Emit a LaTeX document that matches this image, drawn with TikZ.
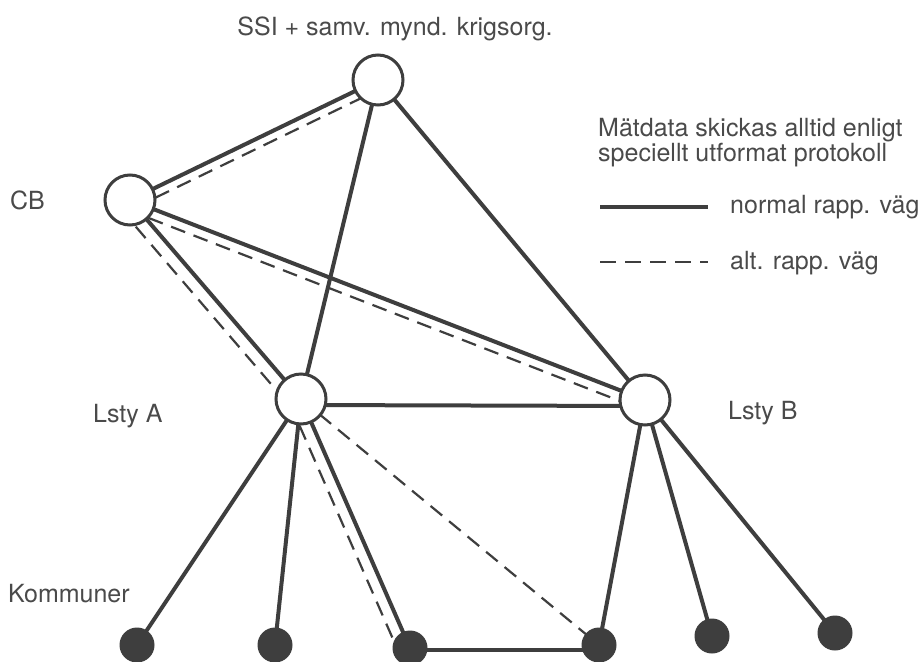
\documentclass[tikz,border=0pt]{standalone}
\usepackage{fontspec}
\setmainfont{TeX Gyre Heros}
\usetikzlibrary{calc,backgrounds}
\definecolor{ink}{HTML}{3E3E3E}
\definecolor{txt}{HTML}{4A4A4A}
\tikzset{
  hub/.style={circle,draw=ink,line width=3pt,fill=white,minimum size=50pt,inner sep=0pt},
  town/.style={circle,fill=ink,minimum size=35pt,inner sep=0pt},
  normal/.style={draw=ink,line width=4pt},
  alt/.style={draw=ink,line width=2.2pt,dash pattern=on 15pt off 9pt},
  lbl/.style={text=txt,font=\fontsize{25}{22}\selectfont,inner sep=0pt,anchor=base west}
}
\begin{document}
\begin{tikzpicture}[x=1pt,y=-1pt]
  \useasboundingbox (0,0) rectangle (922,662);

  % upper level nodes
  \node[hub] (ssi) at (378,80) {};
  \node[hub] (cb)  at (130,200) {};
  \node[hub] (la)  at (301,399) {};
  \node[hub] (lb)  at (645,400) {};

  % municipalities
  \node[town] (k1) at (137,645) {};
  \node[town] (k2) at (275,645) {};
  \node[town] (k3) at (410,648) {};
  \node[town] (k4) at (599,645) {};
  \node[town] (k5) at (712,636) {};
  \node[town] (k6) at (835,633) {};

  % labels
  \node[lbl,anchor=base] (tssi) at (395,35) {SSI + samv. mynd. krigsorg.};
  \node[lbl] (tcb) at (10,209) {CB};
  \node[lbl] (tla) at (93,422) {Lsty A};
  \node[lbl] (tlb) at (728,419) {Lsty B};
  \node[lbl] (tk)  at (8,602) {Kommuner};

  % legend
  \node[lbl,align=left,anchor=north west] (note) at (598,118)
    {Mätdata skickas alltid enligt\\speciellt utformat protokoll};
  \coordinate (ln1) at (600,207);
  \coordinate (ln2) at (708,207);
  \coordinate (la1) at (600,262);
  \coordinate (la2) at (708,262);
  \draw[normal] (ln1) -- (ln2);
  \draw[alt,dash pattern=on 16pt off 9pt] (la1) -- (la2);
  \node[lbl] (tn) at (730,213) {normal rapp. väg};
  \node[lbl] (ta) at (730,269) {alt. rapp. väg};

  \begin{scope}[on background layer]
    \fill[white] (0,0) rectangle (922,662);
    % normal reporting paths
    \draw[normal] (ssi.center) -- (cb.center);
    \draw[normal] (ssi.center) -- (la.center);
    \draw[normal] (ssi.center) -- (lb.center);
    \draw[normal] (cb.center) -- (la.center);
    \draw[normal] (cb.center) -- (lb.center);
    \draw[normal] ($(la.center)+(0,6)$) -- ($(lb.center)+(0,6)$);
    \draw[normal] (la.center) -- (k1.center);
    \draw[normal] (la.center) -- (k2.center);
    \draw[normal] (la.center) -- (k3.center);
    \draw[normal] (lb.center) -- (k4.center);
    \draw[normal] (lb.center) -- (k5.center);
    \draw[normal] (lb.center) -- (k6.center);
    \draw[normal] ($(k3.center)+(0,2)$) -- ($(k4.center)+(0,5)$);
    % alternative reporting paths
    \draw[alt] ($(cb.center)!9pt!-90:(ssi.center)$) -- ($(ssi.center)!9pt!90:(cb.center)$);
    \draw[alt] ($(cb.center)!10pt!-90:(lb.center)$) -- ($(lb.center)!10pt!90:(cb.center)$);
    \draw[alt] ($(cb.center)!13pt!-90:(la.center)$) -- ($(la.center)!13pt!90:(cb.center)$);
    \draw[alt] ($(la.center)!12pt!-90:(k3.center)$) -- ($(k3.center)!12pt!90:(la.center)$);
    \draw[alt] (la.center) -- (k4.center);
  \end{scope}
\end{tikzpicture}
\end{document}
